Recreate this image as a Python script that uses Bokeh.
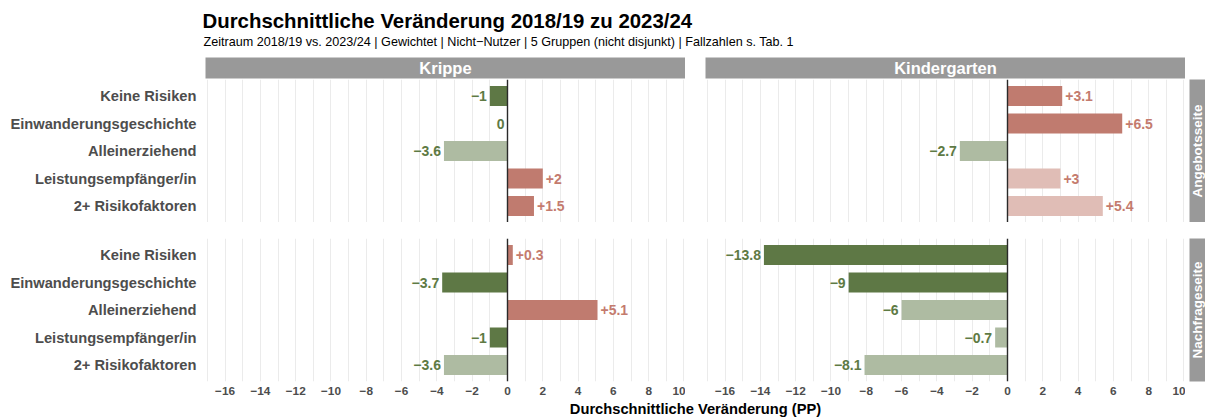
import math
from bokeh.plotting import figure
from bokeh.layouts import column, row
from bokeh.models import Range1d, FixedTicker, Span, LinearAxis, Grid
from bokeh.core.properties import value
from bokeh.embed import file_html
from bokeh.resources import INLINE

# ---------------- data ----------------
title_text = "Durchschnittliche Veränderung 2018/19 zu 2023/24"
subtitle_text = "Zeitraum 2018/19 vs. 2023/24 | Gewichtet | Nicht\u2212Nutzer | 5 Gruppen (nicht disjunkt) | Fallzahlen s. Tab. 1"
x_title = "Durchschnittliche Veränderung (PP)"

categories = ["Keine Risiken", "Einwanderungsgeschichte", "Alleinerziehend",
              "Leistungsempfänger/in", "2+ Risikofaktoren"]
facet_columns = ["Krippe", "Kindergarten"]
facet_rows = ["Angebotsseite", "Nachfrageseite"]

krippe_angebot = [-1.0, 0.0, -3.6, 2.0, 1.5]
krippe_angebot_strong = [True, True, False, True, True]
kita_angebot = [3.1, 6.5, -2.7, 3.0, 5.4]
kita_angebot_strong = [True, True, False, False, False]
krippe_nachfrage = [0.3, -3.7, 5.1, -1.0, -3.6]
krippe_nachfrage_strong = [True, True, True, True, False]
kita_nachfrage = [-13.8, -9.0, -6.0, -0.7, -8.1]
kita_nachfrage_strong = [True, True, False, False, False]

x_ticks = [-16, -14, -12, -10, -8, -6, -4, -2, 0, 2, 4, 6, 8, 10]
grid_lines = list(range(-17, 11))

# ---------------- style ----------------
FONT = "Liberation Sans"
GREEN_DARK = "#5E7845"
GREEN_LIGHT = "#AEBBA2"
RED_DARK = "#C07B6F"
RED_LIGHT = "#E0BDB6"
GREEN_TXT = "#5E7A44"
RED_TXT = "#C47B6E"
STRIP = "#999999"
AXIS_TXT = "#4D4D4D"

LEFT = 205
FW = 480
GAP = 20
RS_GAP = 4
RS_W = 16
TOTAL_W = LEFT + FW + GAP + FW + RS_GAP + RS_W
FH = 143
ROW_GAP = 16
XAX_H = 19
HEAD_H = 56
FOOT_H = 18
XMIN, XMAX = -17.11, 10.085

y_pos = [1, 2, 3, 4, 5]


def fmt(v):
    if v == 0:
        return "0"
    s = f"{v:+g}"
    return s.replace("-", "\u2212")


def tick_label(t):
    return str(t).replace("-", "\u2212")


def blank(width, height, **kw):
    p = figure(width=width, height=height, x_axis_type=None, y_axis_type=None,
               toolbar_location=None, output_backend="svg",
               min_border_left=0, min_border_right=0, min_border_top=0, min_border_bottom=0,
               outline_line_color=None, **kw)
    return p


def panel(vals, strong, show_y, show_x, left_border, top_border):
    p = figure(frame_width=FW, frame_height=FH, x_axis_type=None, y_axis_type=None,
               x_range=Range1d(XMIN, XMAX), y_range=Range1d(5.6, 0.4),
               toolbar_location=None, output_backend="svg",
               min_border_left=left_border, min_border_right=0,
               min_border_top=top_border, min_border_bottom=(XAX_H if show_x else 0),
               outline_line_color=None, background_fill_color="white",
               border_fill_color="white")
    p.add_layout(Grid(dimension=0, ticker=FixedTicker(ticks=grid_lines),
                      grid_line_color="#EBEBEB", grid_line_width=1))
    colors = []
    for v, s in zip(vals, strong):
        if v > 0:
            colors.append(RED_DARK if s else RED_LIGHT)
        else:
            colors.append(GREEN_DARK if s else GREEN_LIGHT)
    p.hbar(y=y_pos, left=0, right=vals, height=0.72, fill_color=colors, line_color=None)
    p.add_layout(Span(location=0, dimension="height", line_color="#2A2A2A", line_width=1.4))

    pos = [(v, y) for v, y in zip(vals, y_pos) if v > 0]
    neg = [(v, y) for v, y in zip(vals, y_pos) if v <= 0]
    if pos:
        p.text(x=[a for a, _ in pos], y=[b for _, b in pos], text=[fmt(a) for a, _ in pos],
               x_offset=3, text_align="left", text_baseline="middle", text_color=RED_TXT,
               text_font=value(FONT), text_font_style="bold", text_font_size="14px")
    if neg:
        p.text(x=[a for a, _ in neg], y=[b for _, b in neg], text=[fmt(a) for a, _ in neg],
               x_offset=-3, text_align="right", text_baseline="middle", text_color=GREEN_TXT,
               text_font=value(FONT), text_font_style="bold", text_font_size="14px")

    if show_y:
        ax = LinearAxis(ticker=FixedTicker(ticks=y_pos),
                        major_label_overrides={i: c for i, c in zip(y_pos, categories)})
        ax.axis_line_color = None
        ax.major_tick_line_color = None
        ax.minor_tick_line_color = None
        ax.major_tick_out = 0
        ax.major_tick_in = 0
        ax.major_label_standoff = 9
        ax.major_label_text_font = FONT
        ax.major_label_text_font_style = "bold"
        ax.major_label_text_font_size = "14.7px"
        ax.major_label_text_color = AXIS_TXT
        p.add_layout(ax, "left")
    if show_x:
        ax = LinearAxis(ticker=FixedTicker(ticks=x_ticks),
                        major_label_overrides={t: tick_label(t) for t in x_ticks})
        ax.axis_line_color = None
        ax.major_tick_line_color = None
        ax.minor_tick_line_color = None
        ax.major_tick_out = 0
        ax.major_tick_in = 0
        ax.major_label_standoff = 5
        ax.major_label_text_font = FONT
        ax.major_label_text_font_style = "bold"
        ax.major_label_text_font_size = "11.8px"
        ax.major_label_text_color = AXIS_TXT
        p.add_layout(ax, "below")
    return p


def top_strip(label, left_border):
    p = figure(frame_width=FW, frame_height=21, x_axis_type=None, y_axis_type=None,
               x_range=Range1d(0, 1), y_range=Range1d(0, 1),
               toolbar_location=None, output_backend="svg",
               min_border_left=left_border, min_border_right=0,
               min_border_top=1, min_border_bottom=1,
               outline_line_color=None, background_fill_color=STRIP,
               border_fill_color="white")
    p.text(x=[0.5], y=[0.5], text=[label], text_align="center", text_baseline="middle",
           text_color="white", text_font=value(FONT), text_font_style="bold",
           text_font_size="16.5px")
    return p


def side_strip(label, top_border, bottom_border):
    p = figure(frame_width=RS_W, frame_height=FH, x_axis_type=None, y_axis_type=None,
               x_range=Range1d(0, 1), y_range=Range1d(0, 1),
               toolbar_location=None, output_backend="svg",
               min_border_left=RS_GAP, min_border_right=0,
               min_border_top=top_border, min_border_bottom=bottom_border,
               outline_line_color=None, background_fill_color=STRIP,
               border_fill_color="white")
    p.text(x=[0.5], y=[0.5], text=[label], angle=math.pi / 2, text_align="center",
           text_baseline="middle", text_color="white", text_font=value(FONT),
           text_font_style="bold", text_font_size="13.5px")
    return p


# header
header = blank(TOTAL_W, HEAD_H, x_range=Range1d(0, TOTAL_W), y_range=Range1d(HEAD_H, 0))
header.text(x=[202], y=[20], text=[title_text], text_align="left", text_baseline="alphabetic",
            text_color="black", text_font=value(FONT), text_font_style="bold",
            text_font_size="20.4px")
header.text(x=[203], y=[41], text=[subtitle_text], text_align="left", text_baseline="alphabetic",
            text_color="black", text_font=value(FONT), text_font_size="12.6px")

strip_row = row(top_strip(facet_columns[0], LEFT), top_strip(facet_columns[1], GAP), spacing=0)

top_row = row(panel(krippe_angebot, krippe_angebot_strong, True, False, LEFT, 0),
              panel(kita_angebot, kita_angebot_strong, False, False, GAP, 0),
              side_strip(facet_rows[0], 0, 0), spacing=0)
bot_row = row(panel(krippe_nachfrage, krippe_nachfrage_strong, True, True, LEFT, ROW_GAP),
              panel(kita_nachfrage, kita_nachfrage_strong, False, True, GAP, ROW_GAP),
              side_strip(facet_rows[1], ROW_GAP, XAX_H), spacing=0)

footer = blank(TOTAL_W, FOOT_H, x_range=Range1d(0, TOTAL_W), y_range=Range1d(FOOT_H, 0))
center_x = LEFT + (FW + GAP + FW) / 2
footer.text(x=[center_x], y=[8], text=[x_title], text_align="center", text_baseline="alphabetic",
            text_color="black", text_font=value(FONT), text_font_style="bold",
            text_font_size="14.7px")

p = column(header, strip_row, top_row, bot_row, footer, spacing=0)

open("out.html", "w").write(file_html(p, INLINE))
